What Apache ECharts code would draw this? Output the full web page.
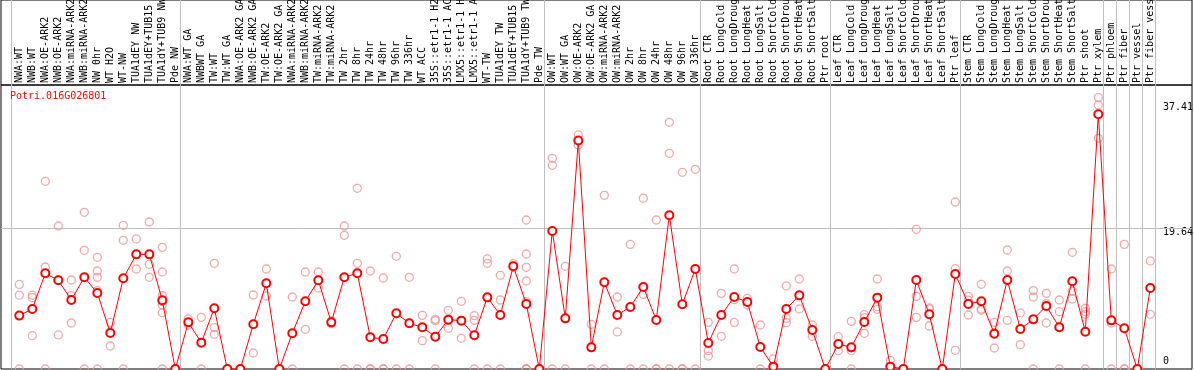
<!DOCTYPE html>
<html>
<head>
<meta charset="utf-8">
<script src="https://cdn.jsdelivr.net/npm/echarts@6/dist/echarts.min.js"></script>
<style>
html,body{margin:0;padding:0;background:#fff;}
#chart{width:1194px;height:370px;}
</style>
</head>
<body>
<div id="chart"></div>
<script>
const geneId = 'Potri.016G026801';

const categories = [
  'NWA:WT','NWB:WT','NWA:OE-ARK2','NWB:OE-ARK2','NWA:miRNA-ARK2','NWB:miRNA-ARK2','NW 0hr','WT H2O','WT-NW',
  'TUA1dEY NW','TUA1dEY+TUB15 NW','TUA1dY+TUB9 NW','Pde NW',
  'NWA:WT GA','NWBWT GA','TW:WT','TW:WT GA','NWA:OE-ARK2 GA','NWB:OE-ARK2 GA','TW:OE-ARK2','TW:OE-ARK2 GA',
  'NWA:miRNA-ARK2 GA','NWB:miRNA-ARK2 GA','TW:miRNA-ARK2','TW:miRNA-ARK2 GA',
  'TW 2hr','TW 8hr','TW 24hr','TW 48hr','TW 96hr','TW 336hr','WT ACC',
  '35S::etr1-1 H2O','35S::etr1-1 ACC','LMX5::etr1-1 H2O','LMX5::etr1-1 ACC',
  'WT-TW','TUA1dEY TW','TUA1dEY+TUB15 TW','TUA1dY+TUB9 TW','Pde TW',
  'OW:WT','OW:WT GA','OW:OE-ARK2','OW:OE-ARK2 GA','OW:miRNA-ARK2','OW:miRNA-ARK2 GA',
  'OW 2hr','OW 8hr','OW 24hr','OW 48hr','OW 96hr','OW 336hr',
  'Root CTR','Root LongCold','Root LongDrought','Root LongHeat','Root LongSalt',
  'Root ShortCold','Root ShortDrought','Root ShortHeat','Root ShortSalt','Ptr root',
  'Leaf CTR','Leaf LongCold','Leaf LongDrought','Leaf LongHeat','Leaf LongSalt',
  'Leaf ShortCold','Leaf ShortDrought','Leaf ShortHeat','Leaf ShortSalt','Ptr leaf',
  'Stem CTR','Stem LongCold','Stem LongDrought','Stem LongHeat','Stem LongSalt',
  'Stem ShortCold','Stem ShortDrought','Stem ShortHeat','Stem ShortSalt','Ptr shoot',
  'Ptr xylem','Ptr phloem','Ptr fiber','Ptr vessel','Ptr fiber vessel'
];

const means = [
  7.45, 8.38, 13.36, 12.38, 9.63, 12.8, 10.61, 5.03, 12.66, 16.0, 16.0, 9.59, 0,
  6.51, 3.68, 8.47, 0, 0, 6.24, 11.96, 0, 4.98, 9.45, 12.38, 6.51,
  12.8, 13.36, 4.42, 4.19, 7.77, 6.38, 5.82, 4.51, 6.89, 6.75, 4.7, 10.0, 7.54, 14.33, 9.07, 0,
  19.26, 7.07, 31.9, 3.02, 12.1, 7.54, 8.66, 11.45, 6.84, 21.45, 9.03, 13.96,
  3.63, 7.54, 10.05, 9.35, 3.07, 0.33, 8.38, 10.28, 5.44, 0,
  3.49, 3.02, 6.56, 9.96, 0.33, 0, 12.42, 7.63, 0, 13.26,
  9.07, 9.45, 4.93, 12.42, 5.58, 6.93, 8.8, 5.82, 12.24, 5.21, 35.55,
  6.79, 5.68, 0, 11.31
];

const replicates = [
  [11.8, 10.3, 0], [10.3, 9.96, 4.65], [26.2, 14.24, 0], [19.96, 12.4, 4.75], [12.42, 10.24, 6.42],
  [21.87, 16.57, 0], [15.59, 13.68, 12.8, 10.94, 0], [6.51, 5.21, 3.21], [20.06, 17.96, 0], [18.15, 13.96],
  [20.52, 14.61, 12.8], [16.98, 13.54, 10.24, 9.4, 8.93, 7.86, 0], [0, 0, 0],
  [6.98, 6.14], [7.21, 0], [14.75, 5.77, 4.84], [0, 0], [0, 0], [10.33, 2.23], [13.96, 10.19], [0, 0],
  [10.05, 0], [13.54, 5.54], [13.54, 11.31], [6.7, 6.33],
  [19.96, 18.66, 0], [25.22, 14.75, 0], [13.68, 0, 0], [12.7, 0, 0], [15.73, 0], [12.8, 0], [7.49, 3.96],
  [6.93, 6.75, 0], [8.19, 5.68], [9.45, 4.28], [7.45, 6.79, 0],
  [15.36, 14.75, 0], [13.08, 9.63, 0], [14.7, 14.19], [20.8, 16.05, 14.19, 12.28, 9.4, 0, 0, 0], [0, 0],
  [29.41, 28.43, 0], [14.33, 0], [32.67, 31.27], [6.24, 0], [24.24, 0], [10.05, 5.17],
  [17.4, 0], [23.83, 10.42, 0], [20.8, 0, 0], [34.43, 30.11, 0], [27.45, 0, 0], [27.87, 0],
  [6.51, 2.56, 1.81], [10.56, 4.56], [13.96, 9.68, 6.51], [9.87, 8.93], [6.14, 0],
  [1.4, 0, 0], [11.59, 7.07, 6.47], [12.56, 8.38], [6.14, 4.56], [0, 0],
  [4.51, 2.56], [6.65, 2.56, 0], [7.58, 7.17, 4.98], [12.56, 8.7, 8.33], [1.21, 0, 0],
  [0, 0], [19.5, 10.14, 7.21], [8.52, 8.4, 6.0], [0, 0], [23.31, 14.0, 2.61],
  [10.14, 9.6, 7.54], [11.82, 8.38, 8.19], [6.51, 5.07, 2.93], [16.61, 13.68, 6.79], [7.82, 3.4],
  [10.94, 10.05, 0], [10.56, 9.12, 6.42], [9.63, 8.0, 0], [16.29, 10.89, 9.77], [8.47, 8.0, 7.63, 0],
  [37.88, 36.85, 32.2],
  [13.96, 6.42, 0], [17.4, 0, 0], [0, 0], [15.08, 7.63]
];

// index of first category of each group (and the end)
const groupStarts = [0, 13, 41, 53, 63, 73, 84, 85, 86, 87, 88];

const yTickLabels = [0, 19.64, 37.41];
const refLine = 19.64;

const FONT = 'DejaVu Sans Mono';
const X_MIN = -1.4077, X_MAX = 90.2077, Y_MAX = 39.64;

const meanData = means.map((v, i) => [i, v]);
const repData = [];
replicates.forEach((arr, i) => arr.forEach(v => repData.push([i, v])));
const sepLines = groupStarts.map(b => ({ xAxis: b - 0.62 }));

const chart = echarts.init(document.getElementById('chart'), null, { renderer: 'canvas' });
chart.setOption({
  animation: false,
  backgroundColor: '#fff',
  title: {
    text: geneId, left: 10, top: 91, padding: 0,
    textStyle: { color: '#ff0000', fontFamily: FONT, fontSize: 10, fontWeight: 'normal' }
  },
  grid: [
    { left: 1, right: 2, top: 85, bottom: 1, show: true, borderColor: '#000', borderWidth: 1,
      backgroundColor: 'transparent', containLabel: false, outerBoundsMode: 'none' },
    { left: 1, right: 2, top: 0, height: 85, show: true, borderColor: '#000', borderWidth: 1,
      backgroundColor: 'transparent', containLabel: false, outerBoundsMode: 'none' }
  ],
  xAxis: [
    {
      type: 'value', gridIndex: 0, min: X_MIN, max: X_MAX, position: 'top',
      axisLine: { show: false }, axisTick: { show: false }, splitLine: { show: false },
      axisLabel: {
        customValues: categories.map((c, i) => i),
        formatter: v => categories[Math.round(v)] || '',
        rotate: 90, margin: 2, color: '#000', fontFamily: FONT, fontSize: 10,
        hideOverlap: false
      }
    },
    {
      type: 'value', gridIndex: 1, min: X_MIN, max: X_MAX, show: false,
      splitLine: { show: false }
    }
  ],
  yAxis: [
    {
      type: 'value', gridIndex: 0, min: 0, max: Y_MAX, position: 'right',
      axisLine: { show: false }, axisTick: { show: false }, splitLine: { show: false },
      axisLabel: {
        customValues: yTickLabels, inside: true, margin: 29, align: 'left',
        color: '#000', fontFamily: FONT, fontSize: 10,
        formatter: v => {
          const s = yTickLabels.find(t => Math.abs(t - v) < 1e-6);
          if (s === undefined) return '';
          if (s === 0) return '{b|0}';
          if (s > 30) return '{t|' + s + '}';
          return '{m|' + s + '}';
        },
        rich: {
          t: { padding: [13, 0, 0, 0], fontFamily: FONT, fontSize: 10, color: '#000' },
          m: { padding: [8, 0, 0, 0], fontFamily: FONT, fontSize: 10, color: '#000' },
          b: { padding: [0, 0, 15, 0], fontFamily: FONT, fontSize: 10, color: '#000' }
        }
      }
    },
    { type: 'value', gridIndex: 1, min: 0, max: 1, show: false, splitLine: { show: false } }
  ],
  series: [
    {
      type: 'line', xAxisIndex: 1, yAxisIndex: 1, data: [], silent: true,
      markLine: {
        silent: true, symbol: 'none', label: { show: false },
        lineStyle: { color: '#c0c0c0', type: 'solid', width: 1 },
        data: sepLines
      }
    },
    {
      type: 'scatter', xAxisIndex: 0, yAxisIndex: 0, data: repData, z: 3,
      symbol: 'circle', symbolSize: 8,
      itemStyle: { color: 'rgba(0,0,0,0)', borderColor: '#ee9494', borderWidth: 1.3 }
    },
    {
      type: 'line', xAxisIndex: 0, yAxisIndex: 0, data: meanData, z: 4,
      symbol: 'emptyCircle', symbolSize: 8, showAllSymbol: true,
      lineStyle: { color: '#ff0000', width: 1 },
      itemStyle: { color: '#ff0000', borderColor: '#e00000', borderWidth: 1.6 },
      markLine: {
        silent: true, symbol: 'none', label: { show: false },
        lineStyle: { color: '#c0c0c0', type: 'solid', width: 1 },
        z: 1,
        data: [{ yAxis: refLine }].concat(sepLines)
      }
    }
  ]
});
</script>
</body>
</html>
